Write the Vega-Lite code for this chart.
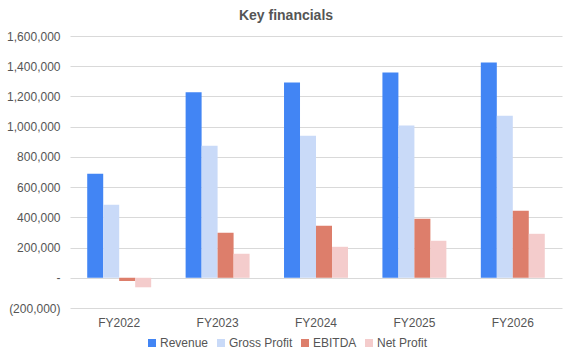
{
  "$schema": "https://vega.github.io/schema/vega-lite/v6.json",
  "autosize": {"type": "none"},
  "width": 492,
  "height": 272,
  "padding": {"left": 70, "top": 36, "right": 11, "bottom": 53},
  "background": "white",
  "config": {
    "font": "Liberation Sans",
    "view": {"stroke": null}
  },
  "title": {
    "text": "Key financials",
    "fontSize": 14,
    "fontWeight": "bold",
    "color": "#555555",
    "anchor": "middle",
    "dx": -30,
    "offset": 7
  },
  "data": {
    "values": [
      {"year": "FY2022", "metric": "Revenue", "value": 689000},
      {"year": "FY2022", "metric": "Gross Profit", "value": 483000},
      {"year": "FY2022", "metric": "EBITDA", "value": -22000},
      {"year": "FY2022", "metric": "Net Profit", "value": -63000},
      {"year": "FY2023", "metric": "Revenue", "value": 1227000},
      {"year": "FY2023", "metric": "Gross Profit", "value": 874000},
      {"year": "FY2023", "metric": "EBITDA", "value": 298000},
      {"year": "FY2023", "metric": "Net Profit", "value": 159000},
      {"year": "FY2024", "metric": "Revenue", "value": 1292000},
      {"year": "FY2024", "metric": "Gross Profit", "value": 940000},
      {"year": "FY2024", "metric": "EBITDA", "value": 344000},
      {"year": "FY2024", "metric": "Net Profit", "value": 205000},
      {"year": "FY2025", "metric": "Revenue", "value": 1358000},
      {"year": "FY2025", "metric": "Gross Profit", "value": 1007000},
      {"year": "FY2025", "metric": "EBITDA", "value": 391000},
      {"year": "FY2025", "metric": "Net Profit", "value": 245000},
      {"year": "FY2026", "metric": "Revenue", "value": 1424000},
      {"year": "FY2026", "metric": "Gross Profit", "value": 1073000},
      {"year": "FY2026", "metric": "EBITDA", "value": 444000},
      {"year": "FY2026", "metric": "Net Profit", "value": 291000}
    ]
  },
  "mark": {"type": "bar"},
  "encoding": {
    "x": {
      "field": "year",
      "type": "nominal",
      "scale": {"paddingInner": 0.35, "paddingOuter": 0.175},
      "axis": {
        "title": null,
        "labelAngle": 0,
        "domain": false,
        "ticks": false,
        "labelFontSize": 12,
        "labelColor": "#555555",
        "labelPadding": 9,
        "offset": 0
      }
    },
    "xOffset": {
      "field": "metric",
      "type": "nominal",
      "sort": ["Revenue", "Gross Profit", "EBITDA", "Net Profit"],
      "scale": {"paddingInner": 0, "paddingOuter": 0}
    },
    "y": {
      "field": "value",
      "type": "quantitative",
      "scale": {"domain": [-200000, 1600000], "nice": false},
      "axis": {
        "title": null,
        "domain": false,
        "ticks": false,
        "values": [-200000, 0, 200000, 400000, 600000, 800000, 1000000, 1200000, 1400000, 1600000],
        "labelExpr": "datum.value == 0 ? '-' : (datum.value < 0 ? '(' + format(-datum.value, ',') + ')' : format(datum.value, ','))",
        "labelFontSize": 12,
        "labelColor": "#555555",
        "labelPadding": 10,
        "gridColor": "#d9d9d9",
        "gridWidth": 1
      }
    },
    "color": {
      "field": "metric",
      "type": "nominal",
      "sort": ["Revenue", "Gross Profit", "EBITDA", "Net Profit"],
      "scale": {
        "domain": ["Revenue", "Gross Profit", "EBITDA", "Net Profit"],
        "range": ["#4285F4", "#C9DAF8", "#DD7E6B", "#F4CCCC"]
      },
      "legend": {
        "title": null,
        "orient": "none",
        "legendX": 76,
        "legendY": 301,
        "direction": "horizontal",
        "symbolType": "square",
        "symbolSize": 64,
        "symbolStrokeWidth": 0,
        "labelFontSize": 12,
        "labelColor": "#555555",
        "labelOffset": 2,
        "columnPadding": 6
      }
    }
  }
}
